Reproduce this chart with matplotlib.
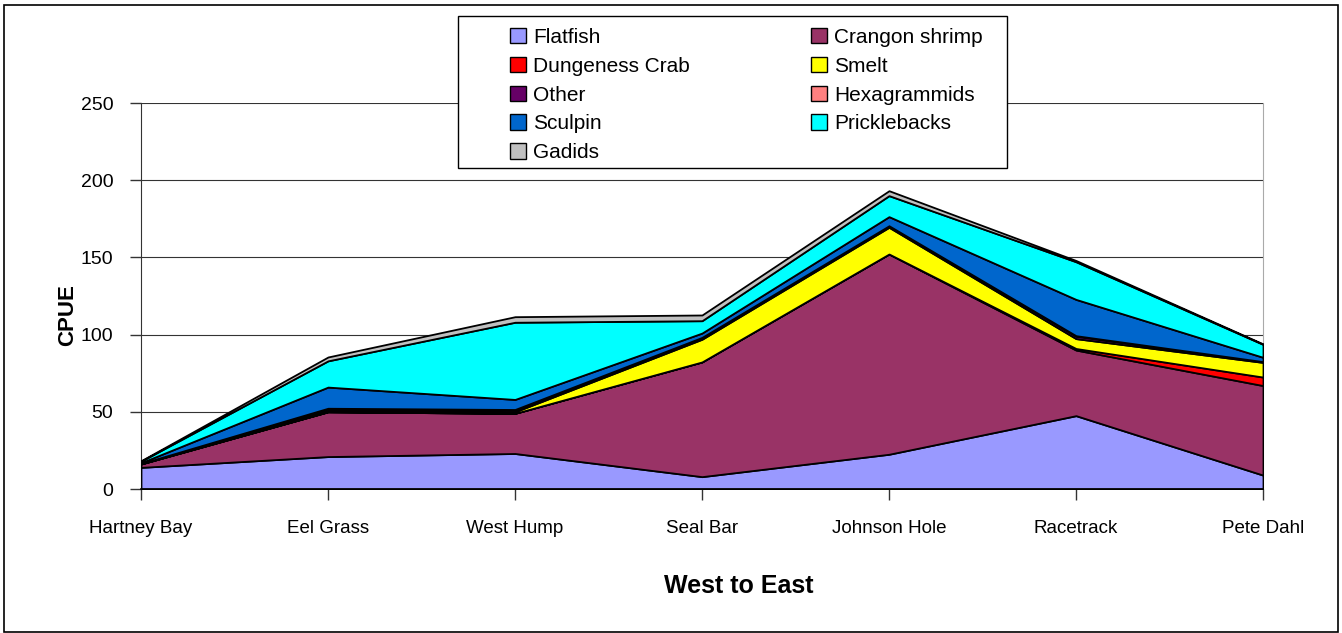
import matplotlib
matplotlib.use("Agg")
import matplotlib.pyplot as plt
from matplotlib.patches import Patch, Rectangle

# ---- data ----
sites = ["Hartney Bay", "Eel Grass", "West Hump", "Seal Bar", "Johnson Hole", "Racetrack", "Pete Dahl"]
flatfish = [14, 21, 23, 8, 22.5, 47.5, 9]
crangon = [2.2, 29, 26, 74.3, 129.7, 42.5, 58]
dungeness = [0, 0, 0, 0, 0, 1, 5.5]
smelt = [0.1, 1, 1, 14.7, 17.3, 6.4, 9.5]
other = [0.2, 1, 1.2, 1.2, 1, 1.6, 0.5]
hexagrammids = [0, 0.3, 0.3, 0, 0, 0.3, 0]
sculpin = [0.5, 13.7, 6.5, 2.8, 5.9, 23.5, 2.8]
pricklebacks = [1, 17, 50, 8, 13.6, 24.4, 8.4]
gadids = [0.3, 2.5, 3.6, 3.7, 3.2, 0.8, 0.3]
yticks = [0, 50, 100, 150, 200, 250]

names = ["Flatfish", "Crangon shrimp", "Dungeness Crab", "Smelt", "Other",
         "Hexagrammids", "Sculpin", "Pricklebacks", "Gadids"]
series = [flatfish, crangon, dungeness, smelt, other, hexagrammids, sculpin, pricklebacks, gadids]
colors = ["#9999FF", "#993366", "#FF0000", "#FFFF00", "#660066",
          "#FF8080", "#0066CC", "#00FFFF", "#C0C0C0"]

plt.rcParams['font.family'] = ['Liberation Sans', 'DejaVu Sans']

W, H = 1342, 633
fig = plt.figure(figsize=(W/100, H/100), dpi=100)
ax = fig.add_axes([141/W, 1-489/H, 1122/W, 386/H])

x = list(range(len(sites)))
ax.stackplot(x, *series, colors=colors, edgecolor="black", linewidth=1.3, zorder=3)

ax.set_xlim(0, len(sites) - 1)
ax.set_ylim(0, 250)
ax.set_yticks(yticks)
ax.set_yticklabels([str(v) for v in yticks], fontsize=14)
ax.set_xticks(x)
ax.set_xticklabels(sites, fontsize=13.5)
ax.tick_params(axis='y', direction='out', length=8, width=1, color='#333333', pad=12)
ax.tick_params(axis='x', direction='out', length=8, width=1, color='#333333', pad=14)
ax.grid(axis='y', color='#333333', linewidth=0.8, zorder=1)
ax.set_axisbelow(True)
ax.spines['top'].set_visible(False)
ax.spines['right'].set_color('#aaaaaa')
ax.spines['left'].set_color('#333333')
ax.spines['bottom'].set_color('black')
ax.spines['bottom'].set_linewidth(1.2)
ax.spines['bottom'].set_zorder(5)

fig.text(68/W, 1-315/H, "CPUE", rotation=90, fontsize=16, fontweight='bold',
         ha='center', va='center')
fig.text(739/W, 1-586/H, "West to East", fontsize=18, fontweight='bold',
         ha='center', va='center')

# legend box
fig.patches.append(Rectangle((458/W, 1-168/H), (1007-458)/W, (168-16)/H,
                             transform=fig.transFigure, facecolor='white',
                             edgecolor='black', linewidth=1, zorder=9))

def make_leg(idx, xpix):
    handles = [Patch(facecolor=colors[i], edgecolor='black', linewidth=1) for i in idx]
    labels = [names[i] for i in idx]
    lg = fig.legend(handles, labels, ncol=1, loc='upper left',
                    bbox_to_anchor=(xpix/W, 1-28/H), fontsize=15,
                    frameon=False, handlelength=0.75, handleheight=0.75,
                    handletextpad=0.35, labelspacing=0.47, borderpad=0,
                    borderaxespad=0)
    lg.set_zorder(10)
    return lg

make_leg([0, 2, 4, 6, 8], 510)
make_leg([1, 3, 5, 7], 811)

# figure border
fig.patches.append(Rectangle((4/W, 1/H), 1334/W, 627/H, transform=fig.transFigure,
                             fill=False, edgecolor='black', linewidth=1.2))

fig.savefig("out.png", dpi=100, facecolor='white')
